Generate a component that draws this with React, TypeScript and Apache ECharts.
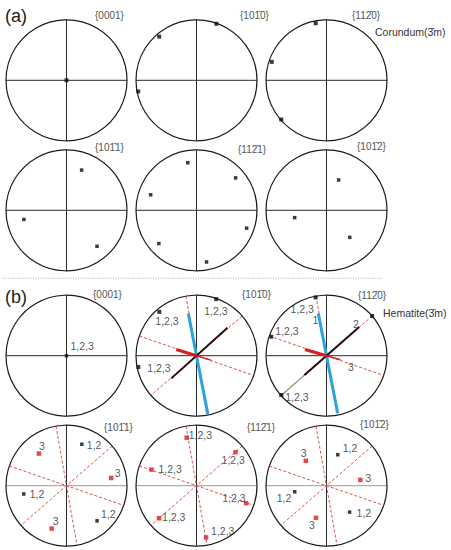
import React, { useEffect, useRef } from 'react';
import * as echarts from 'echarts';

const FONT = '"Liberation Sans", Arial, Helvetica, sans-serif';

// ---------------- data: poles as [radius (0-1 of the projection circle), angle in degrees CCW from east] ----------------
// (a) Corundum
const corundum0001 = [[0, 0]];
const corundum1010 = [[0.99, 70.6], [0.95, 130.5], [0.98, 190.8]];
const corundum1120 = [[0.96, 100.7], [0.955, 161.4], [0.99, 220.9]];
const corundum1011 = [[0.71, 69.4], [0.72, 192.1], [0.78, 310.3]];
const corundum1121 = [[0.84, 39.6], [0.8, 100.4], [0.8, 161.3], [0.83, 221.5], [0.87, 281], [0.88, 340.4]];
const corundum1012 = [[0.54, 68.2], [0.54, 193], [0.59, 310.7]];

// (b) Hematite
const hem0001 = [[0, 0]];
const hem0001Labels = ['1,2,3'];
const hem1010 = [[0.99, 70.8], [0.95, 130.3], [0.98, 191]];
const hem1010Labels = ['1,2,3', '1,2,3', '1,2,3'];
const hem1120 = [[0.98, 100.6], [0.965, 161], [0.99, 221], [1.0, 41]];
const hem1120Labels = ['1,2,3', '1,2,3', '1,2,3', ''];
const hem1011Black = [[0.73, 69.7], [0.72, 191], [0.77, 311]];
const hem1011BlackLabels = ['1,2', '1,2', '1,2'];
const hem1011Red = [[0.7, 130.6], [0.75, 9.8], [0.75, 250.9]];
const hem1011RedLabels = ['3', '3', '3'];
const hem1121Red = [[0.81, 101.6], [0.85, 40.6], [0.79, 160.3], [0.87, 340.6], [0.82, 221], [0.87, 280.5]];
const hem1121RedLabels = ['1,2,3', '1,2,3', '1,2,3', '1,2,3', '1,2,3', '1,2,3'];
const hem1012Black = [[0.545, 70], [0.535, 190.8], [0.58, 311.2]];
const hem1012BlackLabels = ['1,2', '1,2', '1,2'];
const hem1012Red = [[0.535, 129.7], [0.567, 9.7], [0.56, 251.8]];
const hem1012RedLabels = ['3', '3', '3'];

// traces (great-circle directions) in degrees
const dashedAngles = [100, 41, 161];
const blueTrace1010 = [[0.71, 101], [0.98, 281]];
const blackTrace1010 = [[0.69, 42], [0.56, 222]];
const redTrace1010 = [[0.35, 163], [0, 0]];
const redThin1010 = [[0, 0], [0.25, 343]];
const blueTrace1120 = [[0.71, 101], [0.97, 281]];
const blackTrace1120 = [[0.72, 41.4], [0.49, 221.4]];
const greyTrace1120 = [[0.49, 221.4], [0.98, 221.4]];
const redTrace1120 = [[0.37, 164], [0, 0]];
const redThin1120 = [[0, 0], [0.24, 344]];
const traceLabels1120 = [[0.61, 107.4], [0.71, 46.9], [0.44, 336]];
const traceLabelTexts1120 = ['1', '2', '3'];

const titles = [
  '{0001}', '{101\u03040}', '{112\u03040}',
  '{101\u03041}', '{112\u03041}', '{101\u03042}',
  '{0001}', '{101\u03040}', '{112\u03040}',
  '{101\u03041}', '{112\u03041}', '{101\u03042}',
];

// ---------------- layout (not data) ----------------
const colX = [66.5, 196.5, 326.5];
const rowY = [80.3, 210.3, 355.7, 485.7];
const R = 60.5;
const titlePos = [
  [95, 15], [240, 15], [352, 15],
  [95, 147], [238, 149], [357, 146],
  [93, 294], [242, 294], [358, 295],
  [104, 427], [247, 427], [360, 424],
];
const off0001 = [[4, -10]];
const off1010 = [[-12, 12], [-4, 9], [9, 1]];
const off1120 = [[-25, 12], [4, -6], [4, 2], [0, 0]];
const off1011Black = [[5, 1], [6, 0], [4, -7]];
const off1011Red = [[0, -8], [3.5, -5], [1, -8]];
const off1121Red = [[2, -3], [-14, 8], [7, -1], [-24, -5], [3, -1], [5, -6]];
const off1012Black = [[5, -7], [-18, 6], [7, 1]];
const off1012Red = [[-5, -8], [5, -2], [-7, 7]];

const BLACK = '#0a0a0a';
const RED = '#e01b1b';

function points(pi: number, data: number[][], color: string, size: number, labels?: string[], offsets?: number[][]) {
  return {
    type: 'scatter',
    coordinateSystem: 'polar',
    polarIndex: pi,
    symbol: 'rect',
    symbolSize: size,
    z: 10,
    silent: true,
    itemStyle: { color },
    data: data.map((d, i) => ({
      name: labels ? labels[i] : '',
      value: d,
      label: labels
        ? {
            show: labels[i] !== '',
            position: 'inside',
            align: 'left',
            verticalAlign: 'middle',
            offset: offsets ? offsets[i] : [4, 0],
            formatter: '{b}',
            color: '#2a2a2a',
            fontSize: 10.5,
            fontFamily: FONT,
          }
        : { show: false },
    })),
  };
}

function seg(pi: number, data: number[][], color: string, width: number, z: number, dashed = false) {
  return {
    type: 'line',
    coordinateSystem: 'polar',
    polarIndex: pi,
    data,
    symbol: 'none',
    showSymbol: false,
    silent: true,
    z,
    clip: false,
    lineStyle: { color, width, type: dashed ? [3, 2] : 'solid' },
  };
}

function dashes(pi: number) {
  return dashedAngles.map((a) => seg(pi, [[1, a], [1, a + 180]], '#d8403a', 0.9, 3, true));
}

export default function App() {
  const ref = useRef<HTMLDivElement>(null);
  useEffect(() => {
    document.body.style.margin = '0';
    const chart = echarts.init(ref.current!, undefined, { renderer: 'svg' });
    const polar: any[] = [];
    const angleAxis: any[] = [];
    const radiusAxis: any[] = [];
    for (let i = 0; i < 12; i++) {
      const cx = colX[i % 3];
      const cy = rowY[Math.floor(i / 3)];
      polar.push({ center: [cx, cy], radius: R });
      angleAxis.push({
        polarIndex: i,
        type: 'value',
        min: 0,
        max: 360,
        interval: 90,
        startAngle: 0,
        clockwise: false,
        silent: true,
        axisLine: { show: true, lineStyle: { color: '#1a1a1a', width: 1.2 } },
        axisTick: { show: false },
        axisLabel: { show: false },
        splitLine: {
          show: true,
          lineStyle: { color: i >= 9 ? ['#9a9a9a', '#2a2a2a'] : '#2a2a2a', width: 1 },
        },
      });
      radiusAxis.push({ polarIndex: i, type: 'value', min: 0, max: 1, show: false });
    }

    const series: any[] = [
      // (a)
      points(0, corundum0001, BLACK, 4),
      points(1, corundum1010, BLACK, 4),
      points(2, corundum1120, BLACK, 4),
      points(3, corundum1011, BLACK, 3.5),
      points(4, corundum1121, BLACK, 3.5),
      points(5, corundum1012, BLACK, 3.5),
      // (b) row 1
      points(6, hem0001, BLACK, 3.5, hem0001Labels, off0001),
      ...dashes(7),
      seg(7, blueTrace1010, '#2aa3df', 3, 5),
      seg(7, blackTrace1010, '#2a0808', 2, 5),
      seg(7, redTrace1010, RED, 3, 6),
      seg(7, redThin1010, RED, 1.5, 6),
      points(7, hem1010, BLACK, 4, hem1010Labels, off1010),
      ...dashes(8),
      seg(8, blueTrace1120, '#2aa3df', 3, 5),
      seg(8, blackTrace1120, '#2a0808', 2, 5),
      seg(8, greyTrace1120, '#9a9a9a', 1.3, 5),
      seg(8, redTrace1120, RED, 3, 6),
      seg(8, redThin1120, RED, 1.5, 6),
      points(8, hem1120, BLACK, 4, hem1120Labels, off1120),
      {
        type: 'scatter',
        coordinateSystem: 'polar',
        polarIndex: 8,
        symbolSize: 0,
        silent: true,
        z: 11,
        data: traceLabels1120.map((d, i) => ({ name: traceLabelTexts1120[i], value: d })),
        label: {
          show: true,
          position: 'inside',
          formatter: '{b}',
          color: '#2a2a2a',
          fontSize: 10.5,
          fontFamily: FONT,
        },
      },
      // (b) row 2
      ...dashes(9),
      points(9, hem1011Black, BLACK, 3.5, hem1011BlackLabels, off1011Black),
      points(9, hem1011Red, RED, 4.5, hem1011RedLabels, off1011Red),
      ...dashes(10),
      points(10, hem1121Red, RED, 4.5, hem1121RedLabels, off1121Red),
      ...dashes(11),
      points(11, hem1012Black, BLACK, 3.5, hem1012BlackLabels, off1012Black),
      points(11, hem1012Red, RED, 4.5, hem1012RedLabels, off1012Red),
    ];

    const graphic: any[] = titles.map((t, i) => ({
      type: 'text',
      x: titlePos[i][0],
      y: titlePos[i][1],
      silent: true,
      style: {
        text: t,
        fill: '#555',
        font: `10px ${FONT}`,
        textAlign: 'left',
        textVerticalAlign: 'middle',
      },
    }));
    graphic.push(
      { type: 'text', x: 5, y: 16, silent: true, style: { text: '(a)', fill: '#222', font: `18px ${FONT}`, textVerticalAlign: 'middle' } },
      { type: 'text', x: 5, y: 297, silent: true, style: { text: '(b)', fill: '#222', font: `18px ${FONT}`, textVerticalAlign: 'middle' } },
      { type: 'text', x: 375, y: 32, silent: true, style: { text: 'Corundum(3\u0304m)', fill: '#333', font: `10.5px ${FONT}`, textVerticalAlign: 'middle' } },
      { type: 'text', x: 383, y: 313, silent: true, style: { text: 'Hematite(3\u0304m)', fill: '#333', font: `10.5px ${FONT}`, textVerticalAlign: 'middle' } },
      {
        type: 'line',
        silent: true,
        shape: { x1: 3, y1: 278.3, x2: 382, y2: 278.3 },
        style: { stroke: '#b5b5b5', lineWidth: 1, lineDash: [1, 1.5] },
      }
    );

    chart.setOption({
      animation: false,
      backgroundColor: '#fff',
      polar,
      angleAxis,
      radiusAxis,
      series,
      graphic,
    });
    return () => chart.dispose();
  }, []);
  return <div ref={ref} style={{ width: 451, height: 550 }} />;
}
